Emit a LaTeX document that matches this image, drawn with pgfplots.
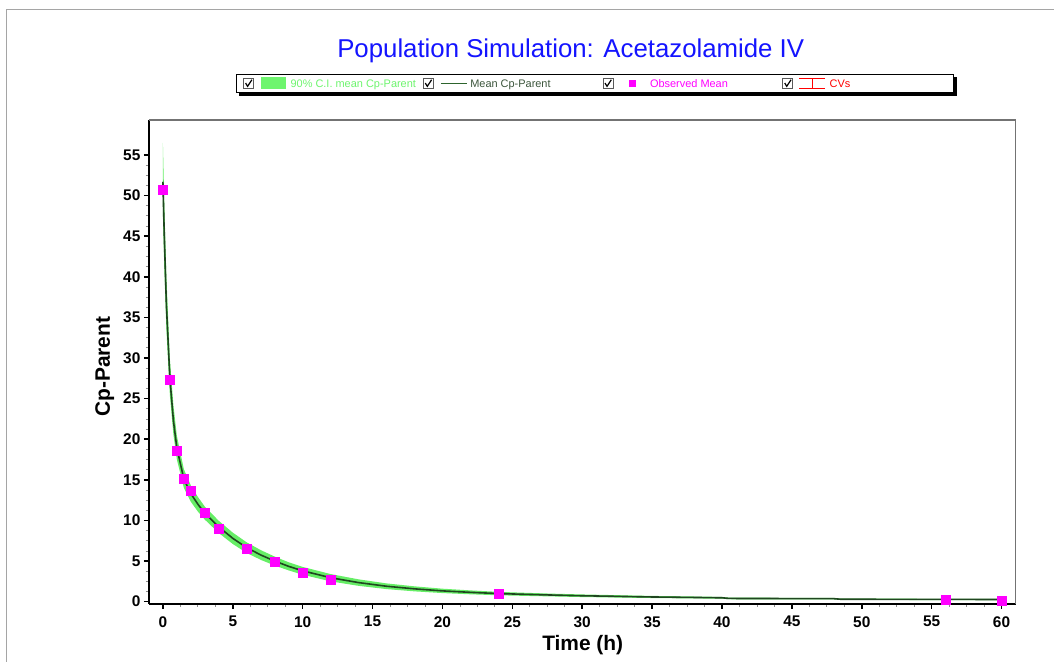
\documentclass[border=0pt]{standalone}
\usepackage{fontspec}
\setmainfont{Liberation Sans}
\usepackage{pgfplots}
\usepackage{pgfplotstable}
\pgfplotsset{compat=1.18}
\usepgfplotslibrary{fillbetween}
\definecolor{band}{RGB}{102,238,102}
\definecolor{meanc}{RGB}{32,70,32}
\definecolor{legmean}{RGB}{45,100,45}
\definecolor{legtxt}{RGB}{60,85,60}
\definecolor{legband}{RGB}{110,245,110}
\definecolor{obs}{RGB}{255,0,255}
\definecolor{titleblue}{RGB}{20,20,255}
\definecolor{frame}{RGB}{165,165,165}

\pgfplotstableread{
t mean lo hi
0 51.7 47.5 56.5
0.1 45.0 41.0 49.0
0.25 36.5 33.5 40.0
0.5 27.5 25.4 29.8
0.75 22.3 20.6 24.2
1 18.9 17.5 20.4
1.5 15.1 14.0 16.3
2 13.3 12.3 14.3
2.5 12.0 11.1 12.9
3 10.9 10.1 11.7
4 9.2 8.45 9.95
5 7.8 7.1 8.5
6 6.65 6.0 7.3
7 5.75 5.15 6.35
8 5.0 4.45 5.55
9 4.35 3.85 4.85
10 3.8 3.32 4.28
12 2.95 2.5 3.4
14 2.35 1.95 2.75
16 1.9 1.55 2.25
18 1.58 1.27 1.89
20 1.33 1.06 1.6
22 1.15 0.91 1.39
24 1.0 0.79 1.21
26 0.9 0.71 1.09
28 0.81 0.64 0.98
30 0.73 0.57 0.89
35 0.58 0.45 0.71
40 0.48 0.37 0.59
40.5 0.40 0.30 0.50
48 0.37 0.28 0.46
48.5 0.30 0.22 0.38
60 0.27 0.19 0.34
}\simtable

\pgfplotstableread{
t obs
0 50.7
0.5 27.3
1 18.6
1.5 15.1
2 13.65
3 10.95
4 9.0
6 6.55
8 4.9
10 3.6
12 2.7
24 1.0
56 0.3
60 0.15
}\obstable

\newcommand{\legcheck}{%
  \draw[black!65, line width=0.6bp, fill=white] (0bp,-5bp) rectangle (10bp,5bp);
  \draw[black, line width=1.2bp] (2bp,0.3bp) -- (4bp,-3bp) -- (8.3bp,3.6bp);
  \path[draw=none, fill=none] (0bp,-5bp) rectangle (47bp,5bp);}

\begin{document}
\begin{tikzpicture}
\path (-149bp,-58bp) rectangle (905bp,604bp);
\draw[frame, line width=1bp] (905bp,594bp) -- (-142bp,594bp) -- (-142bp,-58bp);
\node[font=\fontsize{25.9}{30}\selectfont, text=titleblue, anchor=base] at (422bp,546bp) {Population Simulation: Acetazolamide IV};
\begin{axis}[
  at={(0,0)}, anchor=south west,
  scale only axis, width=867bp, height=484bp,
  xmin=-1, xmax=61, ymin=-0.25, ymax=59.31,
  axis lines*=left,
  axis line style={black, line width=1.8bp, -},
  xtick={0,5,...,60}, ytick={0,5,...,55},
  minor tick num=3,
  tick align=outside,
  major tick length=5bp, minor tick length=3bp,
  major tick style={black, line width=1.6bp},
  minor tick style={black!45, line width=0.8bp},
  /pgf/number format/assume math mode=true,
  ticklabel style={font=\fontsize{15.5}{18}\selectfont\bfseries},
  xticklabel style={yshift=-4bp},
  xlabel={Time (h)}, ylabel={Cp-Parent},
  xlabel style={font=\fontsize{21}{25}\selectfont\bfseries, at={(axis description cs:0.5006,0)}, anchor=base, yshift=-47bp},
  ylabel style={font=\fontsize{21}{25}\selectfont\bfseries, at={(axis description cs:-0.045,0.49)}, anchor=base},
  legend columns=4,
  legend cell align=left,
  legend style={at={(axis description cs:0.10035,1.09504)}, anchor=north west,
    name=leg,
    draw=black, line width=0.8bp, fill=white,
    inner xsep=7bp, inner ysep=3bp,
    font=\fontsize{11}{13}\selectfont,
    /tikz/every even column/.style={column sep=0pt},
    nodes={inner sep=0pt}},
  after end axis/.code={
    \draw[black!55, line width=1.2bp] (rel axis cs:0,1) -- (rel axis cs:1,1) -- (rel axis cs:1,0);
  },
]
\addplot[name path=hi, draw=none, forget plot] table[x=t, y=hi] {\simtable};
\addplot[name path=lo, draw=none, forget plot] table[x=t, y=lo] {\simtable};
\addplot[band, forget plot] fill between[of=hi and lo];
\addplot[meanc, line width=1.6bp, forget plot] table[x=t, y=mean] {\simtable};
\addplot[only marks, mark=square*, mark size=4.5bp, mark options={draw=obs, fill=obs}, forget plot] table[x=t, y=obs] {\obstable};

\addlegendimage{legend image code/.code={\legcheck
  \fill[legband, draw=none] (17.5bp,-6bp) rectangle (42.5bp,6bp);}}
\addlegendentry{\makebox[132.5bp][l]{\strut\color{legband}90\% C.I. mean Cp-Parent}}
\addlegendimage{legend image code/.code={\legcheck
  \draw[legmean, line width=1.5bp] (17.5bp,0bp) -- (43.5bp,0bp);}}
\addlegendentry{\makebox[132.5bp][l]{\strut\color{legtxt}Mean Cp-Parent}}
\addlegendimage{legend image code/.code={\legcheck
  \fill[obs, draw=none] (25.5bp,-3.5bp) rectangle (32.5bp,3.5bp);}}
\addlegendentry{\makebox[132.5bp][l]{\strut\color{obs}Observed Mean}}
\addlegendimage{legend image code/.code={\legcheck
  \draw[red, line width=0.8bp] (16.5bp,5bp) -- (42.5bp,5bp) (16.5bp,-5bp) -- (42.5bp,-5bp) (29.5bp,5bp) -- (29.5bp,-5bp);}}
\addlegendentry{\makebox[117bp][l]{\strut\color{red}CVs}}
\end{axis}
\fill[black] ([yshift=-3bp]leg.north east) rectangle ([xshift=3bp,yshift=-3bp]leg.south east);
\fill[black] ([xshift=3bp,yshift=-3bp]leg.south west) rectangle (leg.south east);
\end{tikzpicture}
\end{document}
